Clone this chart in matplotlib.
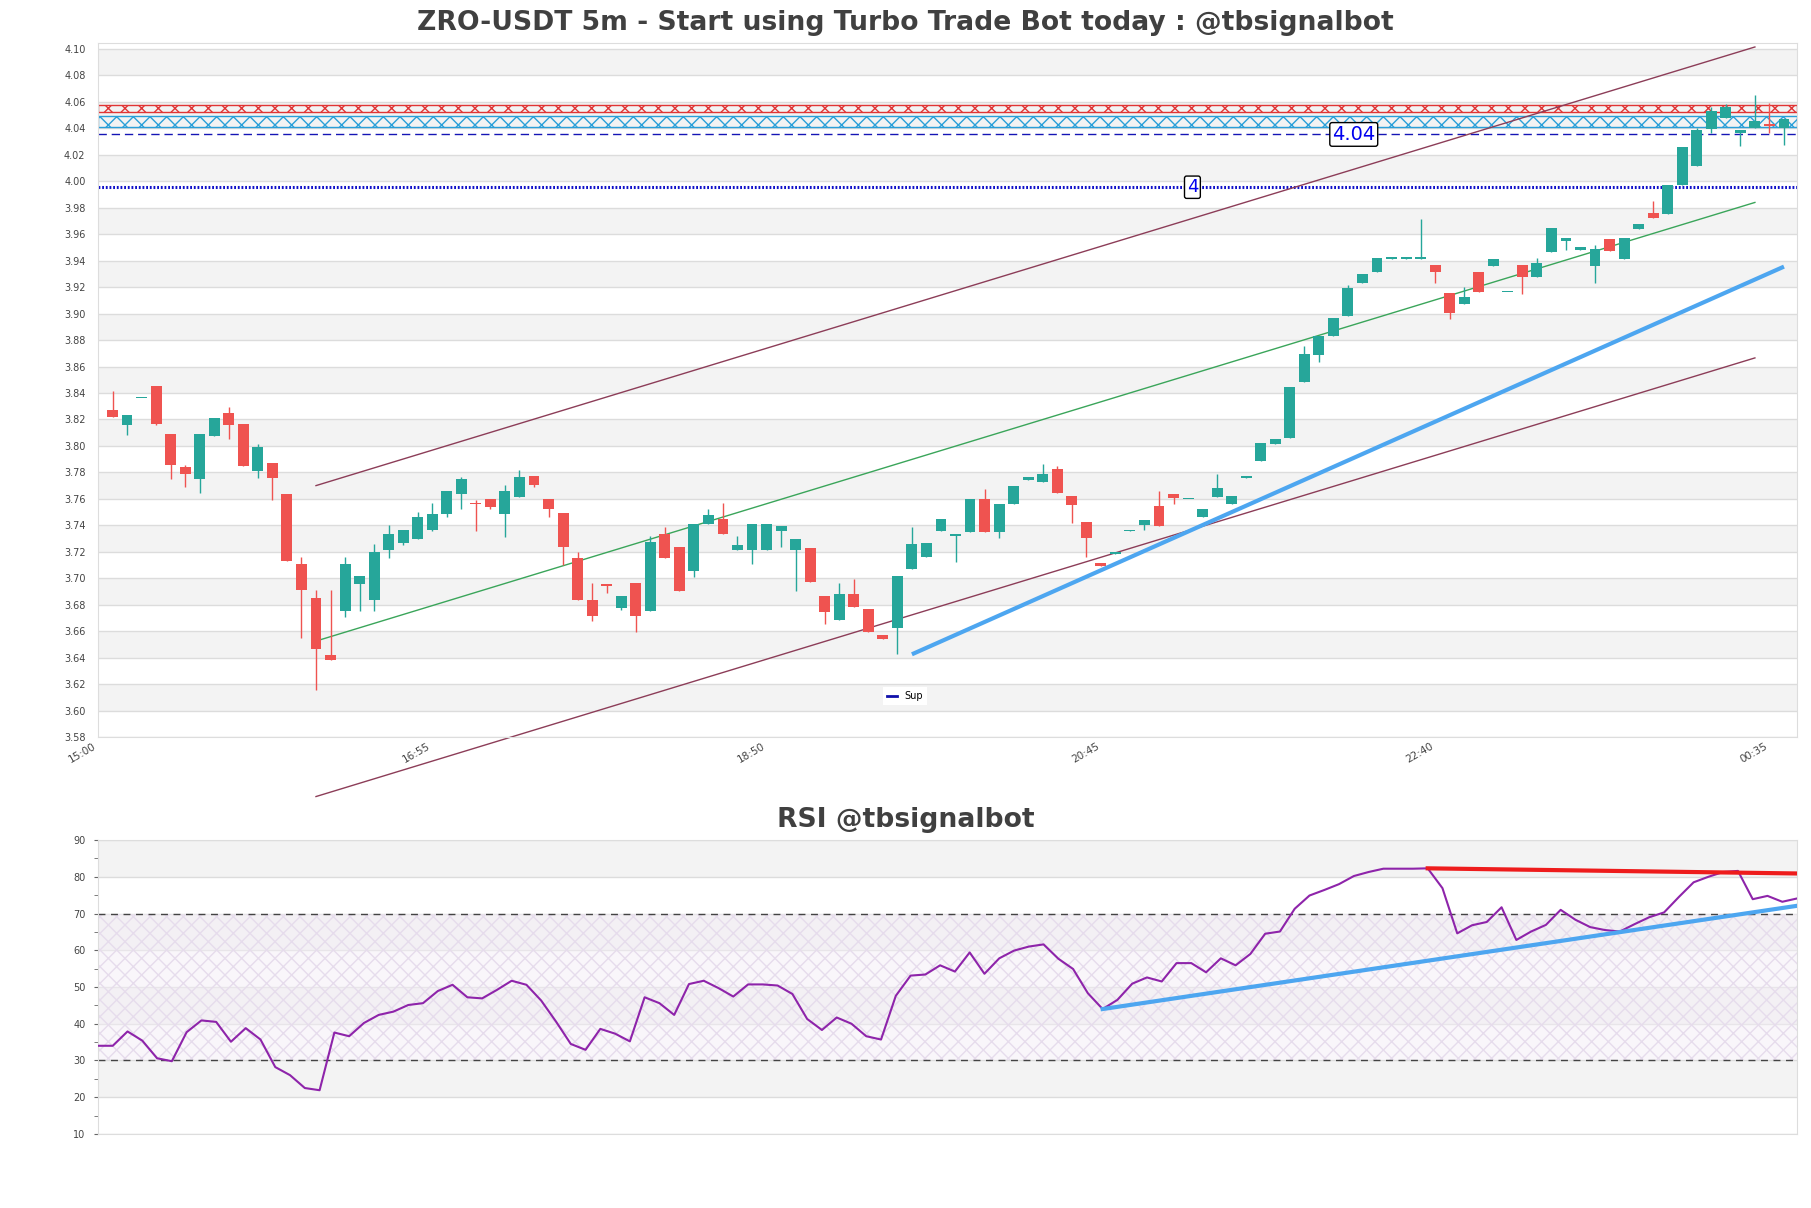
import numpy as np
import matplotlib.pyplot as plt
from matplotlib.lines import Line2D

# tick labels on the time axis (5 minute candles, first candle 15:05)
tick_pos = [-1, 22, 45, 68, 91, 114]
tick_labels = ['15:00', '16:55', '18:50', '20:45', '22:40', '00:35']

opens = [3.827, 3.816, 3.836, 3.8456, 3.8089, 3.7838, 3.7747, 3.8076, 3.8248, 3.8165,
         3.781, 3.7874, 3.7633, 3.711, 3.6852, 3.6419, 3.6756, 3.6953, 3.6836, 3.7211,
         3.7267, 3.7294, 3.7368, 3.7484, 3.7636, 3.7563, 3.7595, 3.7489, 3.7613, 3.777,
         3.7597, 3.7491, 3.7151, 3.6833, 3.6959, 3.6775, 3.6962, 3.6753, 3.7332, 3.7234,
         3.7052, 3.7408, 3.7446, 3.7211, 3.7211, 3.7211, 3.7355, 3.7211, 3.7226, 3.6863,
         3.6685, 3.6879, 3.6765, 3.6569, 3.6622, 3.707, 3.7163, 3.7355, 3.732, 3.7353,
         3.7599, 3.7353, 3.7561, 3.7746, 3.7728, 3.7829, 3.7619, 3.7422, 3.7113, 3.7185,
         3.7355, 3.7399, 3.7548, 3.7639, 3.7596, 3.746, 3.7614, 3.7561, 3.7758, 3.7885,
         3.8011, 3.8062, 3.8484, 3.8689, 3.8828, 3.8985, 3.9233, 3.9314, 3.9413, 3.9413,
         3.9413, 3.9365, 3.9158, 3.9074, 3.9317, 3.936, 3.916, 3.9365, 3.9277, 3.9469,
         3.955, 3.9481, 3.936, 3.9562, 3.9411, 3.9638, 3.976, 3.9752, 3.9972, 4.0119,
         4.0397, 4.0478, 4.0364, 4.0402, 4.0435, 4.0402]
highs = [3.8415, 3.8233, 3.836, 3.8456, 3.8089, 3.7853, 3.8089, 3.821, 3.8296, 3.8165,
         3.8013, 3.7874, 3.7633, 3.716, 3.6912, 3.6912, 3.716, 3.7019, 3.7257, 3.7406,
         3.7368, 3.7504, 3.7565, 3.7656, 3.7765, 3.7588, 3.7595, 3.7702, 3.7816, 3.777,
         3.7597, 3.7491, 3.7201, 3.6962, 3.6959, 3.6863, 3.6962, 3.7322, 3.739, 3.7234,
         3.7413, 3.7526, 3.7567, 3.732, 3.7413, 3.7413, 3.7395, 3.7297, 3.7226, 3.6863,
         3.6962, 3.6992, 3.6765, 3.6569, 3.7015, 3.739, 3.7269, 3.7448, 3.733, 3.7599,
         3.7677, 3.7563, 3.770, 3.7766, 3.786, 3.7847, 3.7619, 3.7422, 3.7113, 3.7192,
         3.7362, 3.7442, 3.7657, 3.7639, 3.7602, 3.7523, 3.7784, 3.7624, 3.7764, 3.8019,
         3.8049, 3.8444, 3.8753, 3.8834, 3.8968, 3.9213, 3.9302, 3.942, 3.9419, 3.9419,
         3.9714, 3.9365, 3.9158, 3.9203, 3.9317, 3.9416, 3.9166, 3.9365, 3.9418, 3.9646,
         3.957, 3.9507, 3.9517, 3.9562, 3.9568, 3.9676, 3.9853, 3.9972, 4.0258, 4.0402,
         4.0562, 4.0587, 4.039, 4.065, 4.0592, 4.0473]
lows = [3.822, 3.8084, 3.836, 3.816, 3.7747, 3.7689, 3.7641, 3.8076, 3.8051, 3.7848,
        3.7757, 3.759, 3.7127, 3.655, 3.6153, 3.6383, 3.6705, 3.6756, 3.6756, 3.7155,
        3.7249, 3.7294, 3.7355, 3.7464, 3.752, 3.7355, 3.752, 3.7309, 3.7613, 3.7689,
        3.7463, 3.7098, 3.6836, 3.6677, 3.6886, 3.676, 3.6594, 3.6753, 3.7153, 3.6907,
        3.7012, 3.7408, 3.7332, 3.7211, 3.7108, 3.7211, 3.7236, 3.6907, 3.6969, 3.6657,
        3.6685, 3.6783, 3.6594, 3.6538, 3.6425, 3.707, 3.7163, 3.7355, 3.7123, 3.7353,
        3.7353, 3.7303, 3.7561, 3.7746, 3.7728, 3.7644, 3.7417, 3.7159, 3.7096, 3.7185,
        3.7355, 3.7366, 3.7391, 3.7561, 3.7596, 3.746, 3.7614, 3.7561, 3.7758, 3.7885,
        3.8011, 3.8062, 3.8484, 3.8631, 3.8828, 3.8985, 3.9233, 3.9314, 3.9413, 3.9413,
        3.9413, 3.9234, 3.896, 3.9074, 3.9165, 3.936, 3.916, 3.9145, 3.9277, 3.9469,
        3.9481, 3.9481, 3.9234, 3.9474, 3.9411, 3.9638, 3.9724, 3.9752, 3.9972, 4.0119,
        4.0367, 4.0478, 4.0263, 4.0402, 4.0364, 4.0271]
closes = [3.822, 3.8233, 3.836, 3.8165, 3.7856, 3.7788, 3.8089, 3.821, 3.816, 3.7848,
          3.7995, 3.7757, 3.7127, 3.6912, 3.6467, 3.6383, 3.711, 3.7019, 3.72, 3.7332,
          3.7368, 3.7466, 3.7489, 3.7656, 3.7747, 3.756, 3.7537, 3.7656, 3.7762, 3.7702,
          3.7524, 3.7236, 3.6836, 3.6715, 3.6942, 3.6863, 3.6715, 3.7277, 3.7153, 3.6907,
          3.7413, 3.7481, 3.7332, 3.7252, 3.7413, 3.7413, 3.7395, 3.7297, 3.6969, 3.6745,
          3.6879, 3.6783, 3.6594, 3.6538, 3.7015, 3.7257, 3.7269, 3.7448, 3.733, 3.7599,
          3.7353, 3.7563, 3.770, 3.7766, 3.7791, 3.7644, 3.7556, 3.7303, 3.7096, 3.7192,
          3.7362, 3.7442, 3.7391, 3.7607, 3.7602, 3.7523, 3.7683, 3.7624, 3.7764, 3.8019,
          3.8049, 3.8444, 3.8694, 3.8834, 3.8968, 3.9195, 3.9302, 3.942, 3.9419, 3.9419,
          3.9419, 3.9315, 3.9006, 3.9127, 3.9165, 3.9416, 3.9166, 3.9279, 3.9385, 3.9646,
          3.957, 3.9507, 3.9487, 3.9474, 3.9568, 3.9676, 3.9724, 3.9972, 4.0258, 4.039,
          4.0531, 4.0562, 4.039, 4.0453, 4.0418, 4.0473]

rsi = [34.0, 34.0, 37.9, 35.4, 30.6, 29.8, 37.7, 40.9, 40.5, 35.1,
       38.8, 35.7, 28.2, 26.0, 22.5, 21.9, 37.6, 36.6, 40.2, 42.4,
       43.3, 45.1, 45.6, 48.9, 50.6, 47.2, 46.9, 49.2, 51.7, 50.6,
       46.3, 40.6, 34.5, 32.9, 38.6, 37.3, 35.2, 47.2, 45.6, 42.4,
       50.8, 51.7, 49.7, 47.4, 50.7, 50.7, 50.4, 48.1, 41.3, 38.3,
       41.7, 40.0, 36.6, 35.7, 47.6, 53.1, 53.4, 55.9, 54.2, 59.4,
       53.6, 57.8, 59.9, 61.0, 61.6, 57.7, 54.9, 48.3, 44.0, 46.5,
       50.9, 52.6, 51.5, 56.5, 56.5, 54.0, 57.8, 55.9, 59.0, 64.5,
       65.1, 71.3, 74.9, 76.4, 78.0, 80.2, 81.3, 82.2, 82.2, 82.2,
       82.3, 76.9, 64.6, 66.8, 67.7, 71.7, 62.8, 65.1, 66.9, 71.0,
       68.3, 66.3, 65.5, 65.1, 67.1, 69.0, 70.3, 74.5, 78.5, 80.0,
       81.3, 81.6, 73.9, 74.8, 73.2, 74.1]

# channel (mid line and half width), support trend line, levels
chan_x = [14, 113]
chan_mid = [3.6525, 3.984]
chan_half = 0.1175
sup_x = [55, 115]
sup_y = [3.6425, 3.9355]
res_zone = [4.052, 4.058]
sup_zone = [4.041, 4.049]
dash_level = 4.0354
dot_level = 3.9955

rsi_sup_x = [68, 115]
rsi_sup_y = [44.0, 72.1]
rsi_res_x = [90, 115]
rsi_res_y = [82.3, 80.9]

up_col = '#26a69a'
down_col = '#ef5350'

fig = plt.figure(figsize=(18.11, 12.08), dpi=100)
ax = fig.add_axes([0.0541, 0.3899, 0.9382, 0.5745])
ax2 = fig.add_axes([0.0541, 0.0613, 0.9382, 0.2433])

fig.text(0.5, 1 - 23 / 1208, 'ZRO-USDT 5m - Start using Turbo Trade Bot today : @tbsignalbot',
         ha='center', va='center', fontsize=19.2, fontweight='bold', color='#404040')
fig.text(0.5, 1 - 820 / 1208, 'RSI @tbsignalbot',
         ha='center', va='center', fontsize=19.2, fontweight='bold', color='#404040')

# ---- price panel ----
o = np.array(opens)
h = np.array(highs)
l = np.array(lows)
c = np.array(closes)
x = np.arange(len(o))
cols = np.where(c >= o, up_col, down_col)

for lo in np.arange(3.60, 4.09, 0.04):
    ax.axhspan(lo, lo + 0.02, color='#f3f3f3', zorder=0, lw=0)
ax.set_yticks(np.arange(3.58, 4.101, 0.02))
ax.grid(axis='y', color='#dcdcdc', lw=1, zorder=0.5)
ax.set_axisbelow(True)

ax.axhspan(res_zone[0], res_zone[1], fill=False, hatch='xx', edgecolor='#e03535', lw=1, zorder=1)
ax.axhspan(sup_zone[0], sup_zone[1], fill=False, hatch='xx', edgecolor='#2a9fd8', lw=1, zorder=1)
ax.axhline(dash_level, color='#1515b5', lw=1, ls=(0, (6, 3.5)), zorder=1)
ax.axhline(dot_level, color='#1010c8', lw=2.2, ls=(0, (0.6, 0.6)), zorder=1)

ax.vlines(x, l, h, color=cols, lw=1, zorder=3)
ax.bar(x, np.maximum(np.abs(c - o), 0.0012), bottom=np.minimum(o, c), width=0.75,
       color=cols, lw=0, zorder=4)

mid = np.array(chan_mid)
ax.plot(chan_x, mid + chan_half, color='#8c3d58', lw=1, zorder=2)
ax.plot(chan_x, mid - chan_half, color='#8c3d58', lw=1, zorder=2, clip_on=False)
ax.plot(chan_x, mid, color='#3aa55a', lw=1, zorder=2)
ax.plot(sup_x, sup_y, color='#4da6f0', lw=3, zorder=5, solid_capstyle='butt')

ax.text(74.3, dot_level, '4', color='#0000ee', fontsize=13, ha='center', va='center', zorder=6,
        bbox=dict(boxstyle='round,pad=0.12', fc='white', ec='black', lw=1))
ax.text(85.4, dash_level, '4.04', color='#0000ee', fontsize=14, ha='center', va='center', zorder=6,
        bbox=dict(boxstyle='round,pad=0.12', fc='white', ec='black', lw=1))

ax.legend(handles=[Line2D([], [], color='#1010aa', lw=2, label='Sup')], loc='center',
          bbox_to_anchor=(0.475, 0.059), fontsize=7, handlelength=1, frameon=True,
          edgecolor='none', framealpha=1, fancybox=False)

ax.set_xlim(-1, 115.9)
ax.set_ylim(3.58, 4.1045)
ax.set_xticks(tick_pos)
ax.set_xticklabels(tick_labels, rotation=30, ha='right')
ax.set_yticklabels(['%.2f' % v for v in np.arange(3.58, 4.101, 0.02)])
ax.tick_params(axis='both', length=0, labelsize=7, labelcolor='#444444')
ax.tick_params(axis='y', pad=9)
ax.tick_params(axis='x', pad=3, labelsize=7.5)
for s in ax.spines.values():
    s.set_color('#dddddd')

# ---- RSI panel ----
for lo in [20, 40, 60, 80]:
    ax2.axhspan(lo, lo + 10, color='#f3f3f3', zorder=0, lw=0)
ax2.axhspan(30, 70, color='#f4eff6', alpha=0.5, lw=0, zorder=0.55)
ax2.axhspan(30, 70, fill=False, hatch='xx', edgecolor='#e6dcec', lw=0, zorder=0.6)
ax2.set_yticks(range(10, 91, 10))
ax2.set_yticks(range(15, 90, 10), minor=True)
ax2.grid(axis='y', color='#dcdcdc', lw=1, zorder=0.5)
ax2.set_axisbelow(True)
ax2.axhline(30, color='#444444', lw=1, ls=(0, (5, 4)), zorder=1)
ax2.axhline(70, color='#444444', lw=1, ls=(0, (5, 4)), zorder=1)

ax2.plot(np.arange(len(rsi)), rsi, color='#8e24aa', lw=1.5, zorder=3)
ax2.plot(rsi_sup_x, rsi_sup_y, color='#4da6f0', lw=3, zorder=4)
ax2.plot(rsi_res_x, rsi_res_y, color='#ee1c1c', lw=3, zorder=4)

ax2.set_xlim(0, len(rsi) - 1)
ax2.set_ylim(10, 90)
ax2.set_xticks([])
ax2.tick_params(axis='y', which='both', length=3, color='#666666', labelsize=7,
                labelcolor='#444444', pad=6)
for s in ax2.spines.values():
    s.set_color('#dddddd')

fig.savefig('out.png', dpi=100)
